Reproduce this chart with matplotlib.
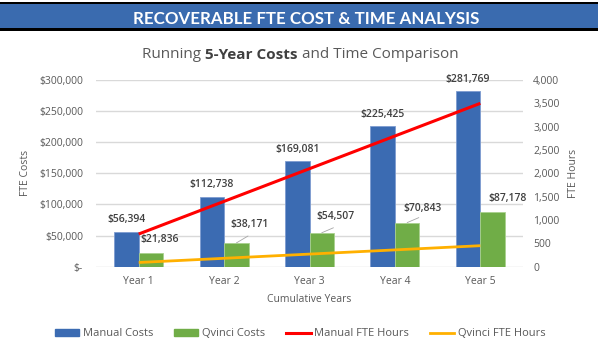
import matplotlib.pyplot as plt
import numpy as np
from matplotlib.patches import Patch, Rectangle
from matplotlib.lines import Line2D

plt.rcParams['font.family'] = ['Open Sans', 'DejaVu Sans']

# data
years = ['Year 1', 'Year 2', 'Year 3', 'Year 4', 'Year 5']
manual_costs = [56394, 112738, 169081, 225425, 281769]
qvinci_costs = [21836, 38171, 54507, 70843, 87178]
manual_hours = [700, 1400, 2100, 2800, 3500]
qvinci_hours = [90, 180, 270, 360, 450]

blue = '#3B6BB2'
green = '#70AD47'
red = '#FF0000'
orange = '#FFB000'
tick_grey = '#595959'
label_grey = '#404040'

W, H = 599, 355
fig = plt.figure(figsize=(W / 100, H / 100), dpi=100)

# header band with black rules
fig.patches.append(Rectangle((0, 1 - 31 / H), 598 / W, 29 / H, transform=fig.transFigure,
                             facecolor='black', edgecolor='none'))
fig.patches.append(Rectangle((0, 1 - 28 / H), 598 / W, 24 / H, transform=fig.transFigure,
                             facecolor='#3A6BAF', edgecolor='none'))
header = fig.text(306 / W, 1 - 19 / H, 'RECOVERABLE FTE COST & TIME ANALYSIS',
                  ha='center', va='center', color='white', fontsize=12.2,
                  fontweight='bold', family=['Lato', 'DejaVu Sans'])

ax = fig.add_axes([96 / W, 1 - 266.7 / H, 427 / W, 186.7 / H])
ax2 = ax.twinx()

x = np.arange(len(years))
w = 0.287
ax.bar(x - w / 2, manual_costs, w, color=blue, edgecolor='#7E9CD0', linewidth=0.6, zorder=2)
ax.bar(x + w / 2, qvinci_costs, w, color=green, edgecolor='#A9D18E', linewidth=0.6, zorder=2)

ax2.plot(x, manual_hours, color=red, linewidth=2.2, solid_capstyle='butt')
ax2.plot(x, qvinci_hours, color=orange, linewidth=2.0, solid_capstyle='butt')

ax.set_xlim(-0.5, len(years) - 0.5)
ax.set_ylim(0, 300000)
ax2.set_ylim(0, 4000)
ax.set_yticks(np.arange(0, 300001, 50000))
ax.set_yticklabels(['$-'] + ['${:,}'.format(v) for v in range(50000, 300001, 50000)])
ax2.set_yticks(np.arange(0, 4001, 500))
ax2.set_yticklabels(['{:,}'.format(v) for v in range(0, 4001, 500)])
ax.set_xticks(x)
ax.set_xticklabels(years)

ax.grid(axis='y', color='#D9D9D9', linewidth=1)
ax.set_axisbelow(True)
for a in (ax, ax2):
    for s in a.spines.values():
        s.set_visible(False)
ax.tick_params(axis='both', length=0, labelsize=7.5, labelcolor=tick_grey)
ax.tick_params(axis='y', pad=9.4)
ax.tick_params(axis='x', pad=7)
ax2.tick_params(axis='y', length=0, labelsize=7.5, labelcolor=tick_grey, pad=7.2)

ax.set_ylabel('FTE Costs', fontsize=7.5, color=tick_grey, va='center')
ax.yaxis.set_label_coords((25 - 96) / 427, 0.5)
ax2.set_ylabel('FTE Hours', fontsize=7.5, color=tick_grey, va='center', rotation=90)
ax2.yaxis.set_label_coords((574 - 96) / 427, 0.5)
ax.set_xlabel('Cumulative Years', fontsize=7.5, color=tick_grey, va='center')
ax.xaxis.set_label_coords(0.5, (266.7 - 300) / 186.7)

# data labels
for xi, v in zip(x, manual_costs):
    ax.annotate('${:,}'.format(v), (xi - w / 2, v), xytext=(0, 8.5), textcoords='offset points',
                ha='center', va='center', fontsize=7.5, color=label_grey, fontweight='semibold')

green_offsets = [(6, 9.8), (9.4, 13), (10, 12), (11, 10.3), (10.5, 10.4)]
leader = [None, (8.4, 5), (8.4, 3.6), (8.4, 3.6), None]
for xi, v, off, ld in zip(x, qvinci_costs, green_offsets, leader):
    ax.annotate('${:,}'.format(v), (xi + w / 2, v), xytext=off, textcoords='offset points',
                ha='center', va='center', fontsize=7.5, color=label_grey, fontweight='semibold')
    if ld:
        ax.annotate('', (xi + w / 2, v), xytext=ld, textcoords='offset points',
                    arrowprops=dict(arrowstyle='-', color='#A6A6A6', lw=0.6,
                                    shrinkA=0, shrinkB=0))

# subtitle with a bold middle part
t1 = fig.text(0, 1 - 55 / H, 'Running ', ha='left', va='center', fontsize=11, color=tick_grey)
t2 = fig.text(0, 1 - 55 / H, '5-Year Costs', ha='left', va='center', fontsize=11,
              color=label_grey, fontweight='bold')
t3 = fig.text(0, 1 - 55 / H, ' and Time Comparison', ha='left', va='center', fontsize=11,
              color=tick_grey)
fig.canvas.draw()
r = fig.canvas.get_renderer()
widths = [t.get_window_extent(r).width for t in (t1, t2, t3)]
start = 300 - sum(widths) / 2
for t, wd in zip((t1, t2, t3), widths):
    t.set_x(start / W)
    start += wd

handles = [Patch(color=blue), Patch(color=green),
           Line2D([], [], color=red, lw=2.2), Line2D([], [], color=orange, lw=2.0)]
labels = ['Manual Costs', 'Qvinci Costs', 'Manual FTE Hours', 'Qvinci FTE Hours']
fig.legend(handles, labels, loc='center', bbox_to_anchor=(300 / W, 1 - 334 / H), ncol=4,
           frameon=False, fontsize=8, handlelength=2.2, handleheight=0.6,
           handletextpad=0.3, columnspacing=1.9, labelcolor=tick_grey)

fig.savefig('out.png', dpi=100)
